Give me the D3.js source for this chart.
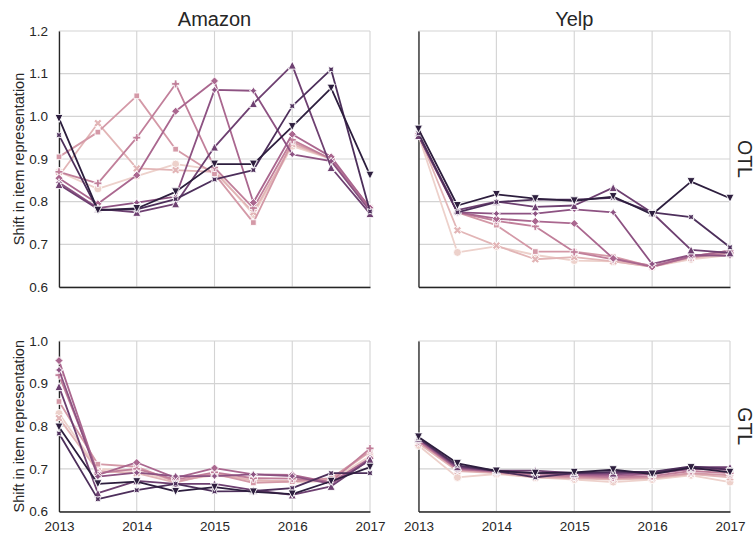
<!DOCTYPE html>
<html><head><meta charset="utf-8">
<script src="https://cdn.jsdelivr.net/npm/d3@7"></script>
<style>body{margin:0;background:#fff} svg{display:block}</style>
</head><body>
<svg id="c" width="756" height="534"></svg>
<script>
// ---------------- data ----------------
const years = [2013, 2013.5, 2014, 2014.5, 2015, 2015.5, 2016, 2016.5, 2017];
const seriesNames = ["1", "2", "3", "4", "5", "6", "7", "8", "9"];
const markerNames = ["circle", "X", "square", "plus", "diamond", "star", "triangleUp", "starX", "triangleDown"];
const columnTitles = ["Amazon", "Yelp"];
const rowTitles = ["OTL", "GTL"];
const xTicks = [2013, 2014, 2015, 2016, 2017];
const yTicksOTL = [0.6, 0.7, 0.8, 0.9, 1.0, 1.1, 1.2];
const yTicksGTL = [0.6, 0.7, 0.8, 0.9, 1.0];
const yLabel = "Shift in item representation";

const amazonOTL = [
  [0.870, 0.830, 0.860, 0.888, 0.875, 0.770, 0.930, 0.900, 0.785],
  [0.860, 0.984, 0.878, 0.874, 0.870, 0.775, 0.935, 0.900, 0.785],
  [0.905, 0.963, 1.048, 0.923, 0.865, 0.751, 0.940, 0.900, 0.785],
  [0.870, 0.843, 0.950, 1.076, 0.880, 0.785, 0.945, 0.900, 0.785],
  [0.855, 0.795, 0.862, 1.012, 1.083, 0.798, 0.958, 0.905, 0.785],
  [0.845, 0.785, 0.798, 0.812, 1.062, 1.060, 0.911, 0.895, 0.778],
  [0.840, 0.783, 0.775, 0.795, 0.928, 1.030, 1.120, 0.880, 0.772],
  [0.956, 0.780, 0.782, 0.806, 0.852, 0.874, 1.024, 1.110, 0.777],
  [0.995, 0.780, 0.784, 0.823, 0.888, 0.888, 0.976, 1.066, 0.862]
];
const yelpOTL = [
  [0.955, 0.681, 0.695, 0.675, 0.662, 0.660, 0.648, 0.665, 0.675],
  [0.958, 0.733, 0.697, 0.665, 0.670, 0.660, 0.647, 0.668, 0.680],
  [0.958, 0.775, 0.745, 0.683, 0.683, 0.671, 0.648, 0.672, 0.685],
  [0.958, 0.775, 0.755, 0.742, 0.682, 0.665, 0.650, 0.670, 0.680],
  [0.955, 0.775, 0.760, 0.754, 0.749, 0.667, 0.647, 0.672, 0.685],
  [0.955, 0.775, 0.772, 0.772, 0.782, 0.775, 0.654, 0.675, 0.673],
  [0.955, 0.780, 0.800, 0.788, 0.791, 0.833, 0.774, 0.687, 0.680],
  [0.960, 0.775, 0.799, 0.805, 0.805, 0.809, 0.775, 0.764, 0.693],
  [0.970, 0.791, 0.817, 0.807, 0.802, 0.812, 0.770, 0.847, 0.808]
];
const amazonGTL = [
  [0.830, 0.700, 0.695, 0.672, 0.685, 0.675, 0.668, 0.672, 0.730],
  [0.819, 0.695, 0.690, 0.668, 0.690, 0.672, 0.672, 0.675, 0.740],
  [0.858, 0.711, 0.705, 0.670, 0.688, 0.667, 0.670, 0.678, 0.742],
  [0.920, 0.690, 0.700, 0.675, 0.692, 0.678, 0.677, 0.670, 0.748],
  [0.954, 0.686, 0.715, 0.679, 0.702, 0.687, 0.686, 0.668, 0.725],
  [0.932, 0.682, 0.691, 0.683, 0.683, 0.687, 0.683, 0.665, 0.720],
  [0.893, 0.643, 0.672, 0.665, 0.665, 0.650, 0.639, 0.659, 0.722],
  [0.783, 0.629, 0.650, 0.665, 0.647, 0.648, 0.655, 0.690, 0.690],
  [0.798, 0.665, 0.670, 0.647, 0.657, 0.646, 0.641, 0.671, 0.704]
];
const yelpGTL = [
  [0.755, 0.680, 0.688, 0.680, 0.675, 0.669, 0.675, 0.685, 0.669],
  [0.760, 0.695, 0.690, 0.680, 0.678, 0.675, 0.678, 0.688, 0.680],
  [0.765, 0.698, 0.692, 0.683, 0.680, 0.678, 0.680, 0.690, 0.685],
  [0.765, 0.700, 0.693, 0.685, 0.683, 0.680, 0.683, 0.695, 0.690],
  [0.768, 0.700, 0.694, 0.690, 0.686, 0.683, 0.688, 0.700, 0.700],
  [0.770, 0.703, 0.695, 0.690, 0.688, 0.687, 0.690, 0.700, 0.698],
  [0.772, 0.705, 0.696, 0.696, 0.690, 0.690, 0.692, 0.704, 0.704],
  [0.772, 0.708, 0.695, 0.680, 0.690, 0.693, 0.693, 0.706, 0.698],
  [0.775, 0.713, 0.695, 0.690, 0.692, 0.698, 0.688, 0.703, 0.692]
];

// ---------------- style ----------------
const FONT = "'Liberation Sans', Arial, Helvetica, sans-serif";
const TEXT = "#262626";

// seaborn cubehelix (start=0, rot=.4, light=.85, dark=.15)
function cubehelix(x) {
  const hue = 0.8, rot = 0.4, start = 0;
  const a = hue * x * (1 - x) / 2;
  const phi = 2 * Math.PI * (start / 3 + rot * x);
  const c = Math.cos(phi), s = Math.sin(phi);
  const cl = v => Math.round(255 * Math.max(0, Math.min(1, v)));
  return d3.rgb(cl(x + a * (-0.14861 * c + 1.78277 * s)),
                cl(x + a * (-0.29227 * c - 0.90649 * s)),
                cl(x + a * (1.97294 * c))).formatHex();
}
const color = d3.scaleOrdinal(seriesNames,
  seriesNames.map((d, i) => cubehelix(0.85 - 0.7 * i / (seriesNames.length - 1))));

const MS = 8; // marker size px
function poly(pts) { return "M" + pts.map(p => p[0].toFixed(2) + "," + p[1].toFixed(2)).join("L") + "Z"; }
function rot(pts, deg) {
  const r = deg * Math.PI / 180, c = Math.cos(r), s = Math.sin(r);
  return pts.map(([x, y]) => [x * c - y * s, x * s + y * c]);
}
function markerPath(type, size) {
  const h = size / 2;
  switch (type) {
    case "circle": return `M${h},0A${h},${h} 0 1,1 ${-h},0A${h},${h} 0 1,1 ${h},0Z`;
    case "plus": {
      const t = h / 3;
      return poly([[-h,-t],[-t,-t],[-t,-h],[t,-h],[t,-t],[h,-t],[h,t],[t,t],[t,h],[-t,h],[-t,t],[-h,t]]);
    }
    case "X": {
      const v = [[0.25,0],[0.5,0.25],[0.25,0.5],[0,0.25],[-0.25,0.5],[-0.5,0.25],[-0.25,0],[-0.5,-0.25],[-0.25,-0.5],[0,-0.25],[0.25,-0.5],[0.5,-0.25]];
      return poly(v.map(([x, y]) => [x * size, y * size]));
    }
    case "square": { const q = h * Math.SQRT1_2; return poly([[-q,-q],[q,-q],[q,q],[-q,q]]); }
    case "diamond": return poly([[0,-h],[h,0],[0,h],[-h,0]]);
    case "star":
    case "starX": {
      const pts = [];
      for (let i = 0; i < 8; i++) {
        const r = (i % 2 === 0) ? h : h * 0.5;
        const th = -Math.PI / 2 + i * Math.PI / 4;
        pts.push([r * Math.cos(th), r * Math.sin(th)]);
      }
      return poly(type === "starX" ? rot(pts, 45) : pts);
    }
    case "triangleUp": return poly([[0,-h],[-h,h],[h,h]]);
    case "triangleDown": return poly([[0,h],[-h,-h],[h,-h]]);
  }
}

// ---------------- layout ----------------
const svg = d3.select("#c");
const colX = [[59, 370], [418.5, 730]];
const rowY = [{domain: [0.6, 1.2], range: [287, 31], ticks: yTicksOTL},
              {domain: [0.6, 1.0], range: [511.5, 341], ticks: yTicksGTL}];
const panels = [
  {r: 0, c: 0, data: amazonOTL}, {r: 0, c: 1, data: yelpOTL},
  {r: 1, c: 0, data: amazonGTL}, {r: 1, c: 1, data: yelpGTL}
];

panels.forEach(p => {
  const x = d3.scaleLinear().domain([2013, 2017]).range(colX[p.c]);
  const ry = rowY[p.r];
  const y = d3.scaleLinear().domain(ry.domain).range(ry.range);
  const g = svg.append("g");

  // grid
  const grid = g.append("g");
  grid.selectAll("line.h").data(ry.ticks).join("line")
    .attr("x1", x.range()[0]).attr("x2", x.range()[1])
    .attr("y1", d => y(d)).attr("y2", d => y(d))
    .attr("stroke", "#d3d3d3").attr("stroke-width", 1.1);
  grid.selectAll("line.v").data(xTicks).join("line")
    .attr("x1", d => x(d)).attr("x2", d => x(d))
    .attr("y1", y.range()[0]).attr("y2", y.range()[1])
    .attr("stroke", "#d3d3d3").attr("stroke-width", 1.1);

  // axes (spines + labels)
  const yAxis = d3.axisLeft(y).tickValues(ry.ticks).tickSize(0).tickPadding(11)
    .tickFormat(p.c === 0 ? d3.format(".1f") : () => "");
  const ya = g.append("g").attr("transform", `translate(${x.range()[0]},0)`).call(yAxis);
  ya.select(".domain").attr("stroke", TEXT).attr("stroke-width", 1.3);
  ya.selectAll("text").attr("font-family", FONT).attr("font-size", 13.5).attr("fill", TEXT);

  const xAxis = d3.axisBottom(x).tickValues(xTicks).tickSize(0).tickPadding(10)
    .tickFormat(p.r === 1 ? d3.format("d") : () => "");
  const xa = g.append("g").attr("transform", `translate(0,${y.range()[0]})`).call(xAxis);
  xa.select(".domain").attr("stroke", TEXT).attr("stroke-width", 1.3);
  xa.selectAll("text").attr("font-family", FONT).attr("font-size", 13.5).attr("fill", TEXT);

  // series
  const line = d3.line().x((d, i) => x(years[i])).y(d => y(d));
  p.data.forEach((vals, si) => {
    const col = color(seriesNames[si]);
    const sg = g.append("g");
    sg.append("path").attr("d", line(vals)).attr("fill", "none")
      .attr("stroke", col).attr("stroke-width", 1.8).attr("stroke-linejoin", "round");
    sg.selectAll("path.m").data(vals).join("path").attr("class", "m")
      .attr("d", markerPath(markerNames[si], MS))
      .attr("transform", (d, i) => `translate(${x(years[i])},${y(d)})`)
      .attr("fill", col).attr("stroke", "#fff").attr("stroke-width", 0.9)
      .attr("stroke-linejoin", "miter");
  });

  // column titles
  if (p.r === 0) {
    g.append("text").attr("x", (x.range()[0] + x.range()[1]) / 2).attr("y", 25.5)
      .attr("text-anchor", "middle").attr("font-family", FONT).attr("font-size", 20)
      .attr("fill", TEXT).text(columnTitles[p.c]);
  }
  // row titles
  if (p.c === 1) {
    const cy = (y.range()[0] + y.range()[1]) / 2;
    g.append("text").attr("transform", `translate(738,${cy}) rotate(90)`)
      .attr("text-anchor", "middle").attr("font-family", FONT).attr("font-size", 19.5)
      .attr("fill", TEXT).text(rowTitles[p.r]);
  }
  // y label
  if (p.c === 0) {
    const cy = (y.range()[0] + y.range()[1]) / 2;
    g.append("text").attr("transform", `translate(24,${cy}) rotate(-90)`)
      .attr("text-anchor", "middle").attr("font-family", FONT).attr("font-size", 14.5)
      .attr("fill", TEXT).text(yLabel);
  }
});
</script>
</body></html>
